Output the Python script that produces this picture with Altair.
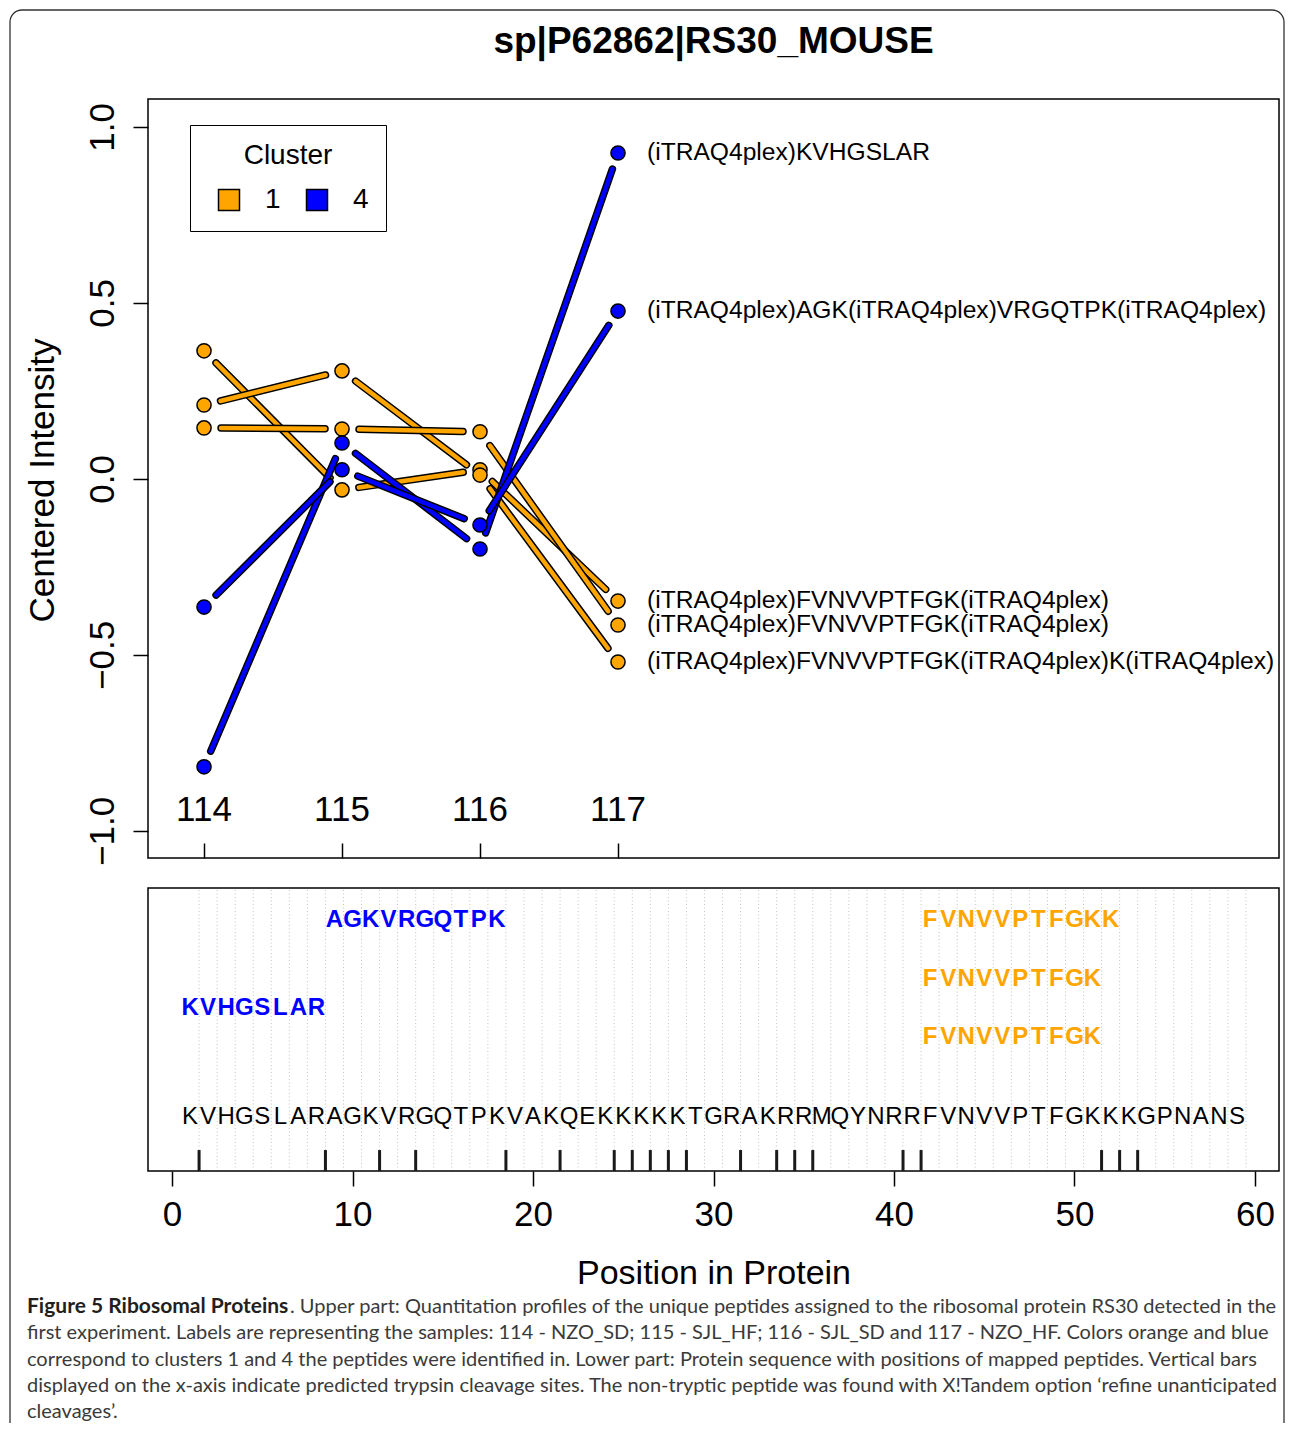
import math
import altair as alt
import pandas as pd

# ---------------- data ----------------
samples = [114, 115, 116, 117]
pep_cluster = ["1", "1", "1", "4", "4"]
pep_values = [
    [0.364, -0.031, 0.026, -0.347],
    [0.210, 0.307, 0.011, -0.520],
    [0.145, 0.142, 0.134, -0.415],
    [-0.818, 0.102, -0.199, 0.926],
    [-0.364, 0.026, -0.131, 0.477],
]
pep_labels = [
    "(iTRAQ4plex)FVNVVPTFGK(iTRAQ4plex)",
    "(iTRAQ4plex)FVNVVPTFGK(iTRAQ4plex)K(iTRAQ4plex)",
    "(iTRAQ4plex)FVNVVPTFGK(iTRAQ4plex)",
    "(iTRAQ4plex)KVHGSLAR",
    "(iTRAQ4plex)AGK(iTRAQ4plex)VRGQTPK(iTRAQ4plex)",
]
cluster_names = ["1", "4"]
cluster_colors = ["#FFA500", "#0000FF"]
y_ticks = [-1.0, -0.5, 0.0, 0.5, 1.0]

sequence = "KVHGSLARAGKVRGQTPKVAKQEKKKKKTGRAKRRMQYNRRFVNVVPTFGKKKGPNANS"
mapped_peptides = ["KVHGSLAR", "AGKVRGQTPK", "FVNVVPTFGKK", "FVNVVPTFGK", "FVNVVPTFGK"]
mapped_start = [1, 9, 42, 42, 42]
mapped_cluster = ["4", "4", "1", "1", "1"]
mapped_row = [0.576, 0.887, 0.887, 0.678, 0.473]
seq_row = 0.191
cleavage_sites = [1.5, 8.5, 11.5, 13.5, 18.5, 21.5, 24.5, 25.5, 26.5, 27.5, 28.5,
                  31.5, 33.5, 34.5, 35.5, 40.5, 41.5, 51.5, 52.5, 53.5]
cleavage_height = 0.074
pos_ticks = [0, 10, 20, 30, 40, 50, 60]

title_text = "sp|P62862|RS30_MOUSE"
caption_bold = "Figure 5 Ribosomal Proteins"
caption_rest1 = (". Upper part: Quantitation profiles of the unique peptides assigned to the "
                 "ribosomal protein RS30 detected in the")
caption_lines = [
    "first experiment. Labels are representing the samples: 114 - NZO_SD; 115 - SJL_HF; "
    "116 - SJL_SD and 117 - NZO_HF. Colors orange and blue",
    "correspond to clusters 1 and 4 the peptides were identified in. Lower part: Protein "
    "sequence with positions of mapped peptides. Vertical bars",
    "displayed on the x-axis indicate predicted trypsin cleavage sites. The non-tryptic "
    "peptide was found with X!Tandem option \u2018refine unanticipated",
    "cleavages\u2019.",
]

# ---------------- layout / style ----------------
W, H = 1277, 1415
FONT = "Liberation Sans"
CAP_FONT = "Lato"
col_of = dict(zip(cluster_names, cluster_colors))

xu_dom, xu_rng = [113.594, 121.79], [140, 1271]
yu_dom, yu_rng = [-1.077, 1.0795], [850, 91]
xl_dom, xl_rng = [-1.33, 61.33], [140, 1271]
yl_dom, yl_rng = [0.0, 1.0], [1163, 880]

def sc(dom, rng):
    return alt.Scale(domain=dom, range=rng, nice=False, zero=False)

XU, YU = sc(xu_dom, xu_rng), sc(yu_dom, yu_rng)
XL, YL = sc(xl_dom, xl_rng), sc(yl_dom, yl_rng)

px_x = (xu_rng[1] - xu_rng[0]) / (xu_dom[1] - xu_dom[0])
px_y = (yu_rng[0] - yu_rng[1]) / (yu_dom[1] - yu_dom[0])
GAP = 17.0

# segments (R type="b": lines stop short of the points)
seg_rows = []
for k, vals in enumerate(pep_values):
    col = col_of[pep_cluster[k]]
    segs = []
    for i in range(3):
        x1, x2 = samples[i], samples[i + 1]
        y1, y2 = vals[i], vals[i + 1]
        L = math.hypot((x2 - x1) * px_x, (y2 - y1) * px_y)
        f = GAP / L
        segs.append((x1 + (x2 - x1) * f, y1 + (y2 - y1) * f,
                     x2 - (x2 - x1) * f, y2 - (y2 - y1) * f))
    for stroke, sw in (("black", 7.5), (col, 4.5)):
        for s in segs:
            seg_rows.append(dict(xa=s[0], ya=s[1], xb=s[2], yb=s[3], stroke=stroke, sw=sw))
seg_df = pd.DataFrame(seg_rows)

pt_df = pd.DataFrame([dict(sample=samples[i], value=v[i], cluster=pep_cluster[k])
                      for k, v in enumerate(pep_values) for i in range(4)])
lab_df = pd.DataFrame([dict(sample=samples[-1], value=v[-1], label=pep_labels[k])
                       for k, v in enumerate(pep_values)])
xlab_df = pd.DataFrame(dict(sample=samples, y=[-0.9403] * 4, label=[str(s) for s in samples]))

box_u = pd.DataFrame([dict(x1=xu_dom[0], x2=xu_dom[1], y1=yu_dom[0], y2=yu_dom[1])])
box_l = pd.DataFrame([dict(x1=xl_dom[0], x2=xl_dom[1], y1=yl_dom[0], y2=yl_dom[1])])

grid_df = pd.DataFrame(dict(pos=[i + 0.5 for i in range(1, len(sequence) + 1)], y0=0.0, y1=1.0))
cleave_df = pd.DataFrame(dict(pos=cleavage_sites, y0=0.0, y1=cleavage_height))
seq_df = pd.DataFrame(dict(pos=list(range(1, len(sequence) + 1)), letter=list(sequence), y=seq_row))
pep_rows = []
for p, s, c, r in zip(mapped_peptides, mapped_start, mapped_cluster, mapped_row):
    for j, ch in enumerate(p):
        pep_rows.append(dict(pos=s + j, letter=ch, y=r, color=col_of[c]))
pep_df = pd.DataFrame(pep_rows)

cap_df = pd.DataFrame(dict(x=[19.0] * len(caption_lines), line=list(range(1, len(caption_lines) + 1)),
                           text=caption_lines))
cap1_df = pd.DataFrame([dict(x=19.0, line=0, text=caption_bold)])
cap1r_df = pd.DataFrame([dict(x=282.0, line=0, text=caption_rest1)])
XC = alt.Scale(domain=[0, W], range=[0, W], nice=False, zero=False)
YC = alt.Scale(domain=[0, 4], range=[1299, 1404], nice=False, zero=False)

# ---------------- layers ----------------
frame = alt.Chart(pd.DataFrame({"a": [0]})).mark_rect(
    filled=False, stroke="#333333", strokeWidth=1.3, cornerRadius=12
).encode(x=alt.value(2), x2=alt.value(1276), y=alt.value(2), y2=alt.value(1460))

title = alt.Chart(pd.DataFrame({"t": [title_text]})).mark_text(
    font=FONT, fontSize=37, fontWeight="bold", align="center", baseline="alphabetic", color="black"
).encode(x=alt.value(705.5), y=alt.value(45), text="t:N")

upper_box = alt.Chart(box_u).mark_rect(filled=False, stroke="black", strokeWidth=1.5).encode(
    x=alt.X("x1:Q", scale=XU, axis=alt.Axis(
        orient="bottom", offset=-580, values=samples, labels=False, domain=False, grid=False,
        ticks=True, tickSize=15, tickWidth=1.5, tickColor="black", title=None)),
    x2="x2:Q",
    y=alt.Y("y1:Q", scale=YU, axis=alt.Axis(
        orient="left", offset=-140, values=y_ticks, format=".1f", labelAngle=270,
        labelAlign="center", labelBaseline="alphabetic", labelPadding=20, tickSize=15,
        tickWidth=1.5, tickColor="black", domain=False, grid=False, labelFontSize=35,
        labelFont=FONT, labelColor="black", labelFlush=False, labelOverlap=False,
        title="Centered Intensity", titleFontSize=35, titleFont=FONT, titleFontWeight="normal",
        titleAngle=270, titleX=-95, titleY=472, titleAlign="center", titleBaseline="alphabetic",
        titleColor="black")),
    y2="y2:Q",
)

lines = alt.Chart(seg_df).mark_rule(strokeCap="round").encode(
    x=alt.X("xa:Q", scale=XU, axis=None), x2="xb:Q",
    y=alt.Y("ya:Q", scale=YU, axis=None), y2="yb:Q",
    color=alt.Color("stroke:N", scale=None),
    size=alt.Size("sw:Q", scale=None),
)

points = alt.Chart(pt_df).mark_circle(size=200, stroke="black", strokeWidth=1.5, opacity=1).encode(
    x=alt.X("sample:Q", scale=XU, axis=None),
    y=alt.Y("value:Q", scale=YU, axis=None),
    fill=alt.Fill("cluster:N", scale=alt.Scale(domain=cluster_names, range=cluster_colors),
                  legend=alt.Legend(
                      title="Cluster", orient="none", legendX=182, legendY=117,
                      direction="horizontal", titleFontSize=28, titleFont=FONT,
                      titleFontWeight="normal", titleAnchor="middle", titleColor="black",
                      titlePadding=16, labelFontSize=28, labelFont=FONT, labelColor="black",
                      symbolType="square", symbolSize=441, symbolStrokeColor="black",
                      symbolStrokeWidth=1.5, strokeColor="black", fillColor="white",
                      padding=17, labelOffset=22, columnPadding=14, symbolOffset=8)),
)

labels = alt.Chart(lab_df).mark_text(
    font=FONT, fontSize=24.6, align="left", baseline="middle", dx=29, color="black"
).encode(x=alt.X("sample:Q", scale=XU, axis=None), y=alt.Y("value:Q", scale=YU, axis=None),
         text="label:N")

xlabels = alt.Chart(xlab_df).mark_text(
    font=FONT, fontSize=35, align="center", baseline="middle", color="black"
).encode(x=alt.X("sample:Q", scale=XU, axis=None), y=alt.Y("y:Q", scale=YU, axis=None),
         text="label:N")

lower_grid = alt.Chart(grid_df).mark_rule(color="#c4c4c4", strokeWidth=1, strokeDash=[1, 2.5]).encode(
    x=alt.X("pos:Q", scale=XL, axis=None),
    y=alt.Y("y0:Q", scale=YL, axis=None), y2="y1:Q")

lower_box = alt.Chart(box_l).mark_rect(filled=False, stroke="black", strokeWidth=1.5).encode(
    x=alt.X("x1:Q", scale=XL, axis=alt.Axis(
        orient="bottom", offset=-252, values=pos_ticks, tickSize=15, tickWidth=1.5,
        tickColor="black", domain=False, grid=False, labelFontSize=35, labelFont=FONT,
        labelColor="black", labelPadding=11, labelFlush=False, labelOverlap=False,
        title="Position in Protein", titleFontSize=34, titleFont=FONT, titleFontWeight="normal",
        titleX=705.5, titleY=112, titleAlign="center", titleBaseline="alphabetic",
        titleColor="black")),
    x2="x2:Q",
    y=alt.Y("y1:Q", scale=YL, axis=None), y2="y2:Q",
)

cleave = alt.Chart(cleave_df).mark_rule(color="#1a1a1a", strokeWidth=3).encode(
    x=alt.X("pos:Q", scale=XL, axis=None),
    y=alt.Y("y0:Q", scale=YL, axis=None), y2="y1:Q")

seq_text = alt.Chart(seq_df).mark_text(
    font=FONT, fontSize=24, align="center", baseline="middle", color="black"
).encode(x=alt.X("pos:Q", scale=XL, axis=None), y=alt.Y("y:Q", scale=YL, axis=None),
         text="letter:N")

pep_text = alt.Chart(pep_df).mark_text(
    font=FONT, fontSize=24, fontWeight="bold", align="center", baseline="middle"
).encode(x=alt.X("pos:Q", scale=XL, axis=None), y=alt.Y("y:Q", scale=YL, axis=None),
         text="letter:N", color=alt.Color("color:N", scale=None))

cap_bold = alt.Chart(cap1_df).mark_text(
    font=CAP_FONT, fontSize=21, fontWeight="bold", align="left", baseline="middle", color="#231f20"
).encode(x=alt.X("x:Q", scale=XC, axis=None), y=alt.Y("line:Q", scale=YC, axis=None), text="text:N")
cap_r1 = alt.Chart(cap1r_df).mark_text(
    font=CAP_FONT, fontSize=20, align="left", baseline="middle", color="#3a3a3a"
).encode(x=alt.X("x:Q", scale=XC, axis=None), y=alt.Y("line:Q", scale=YC, axis=None), text="text:N")
cap_rest = alt.Chart(cap_df).mark_text(
    font=CAP_FONT, fontSize=20, align="left", baseline="middle", color="#3a3a3a"
).encode(x=alt.X("x:Q", scale=XC, axis=None), y=alt.Y("line:Q", scale=YC, axis=None), text="text:N")

chart = alt.layer(
    frame, title, upper_box, lines, points, labels, xlabels,
    lower_grid, lower_box, cleave, seq_text, pep_text,
    cap_bold, cap_r1, cap_rest,
).resolve_scale(x="independent", y="independent").properties(
    width=W, height=H, padding=0, autosize=alt.AutoSizeParams(type="none"),
    background="white",
).configure_view(stroke=None)

chart.save("out.html", embed_options={"renderer": "svg", "actions": False})
